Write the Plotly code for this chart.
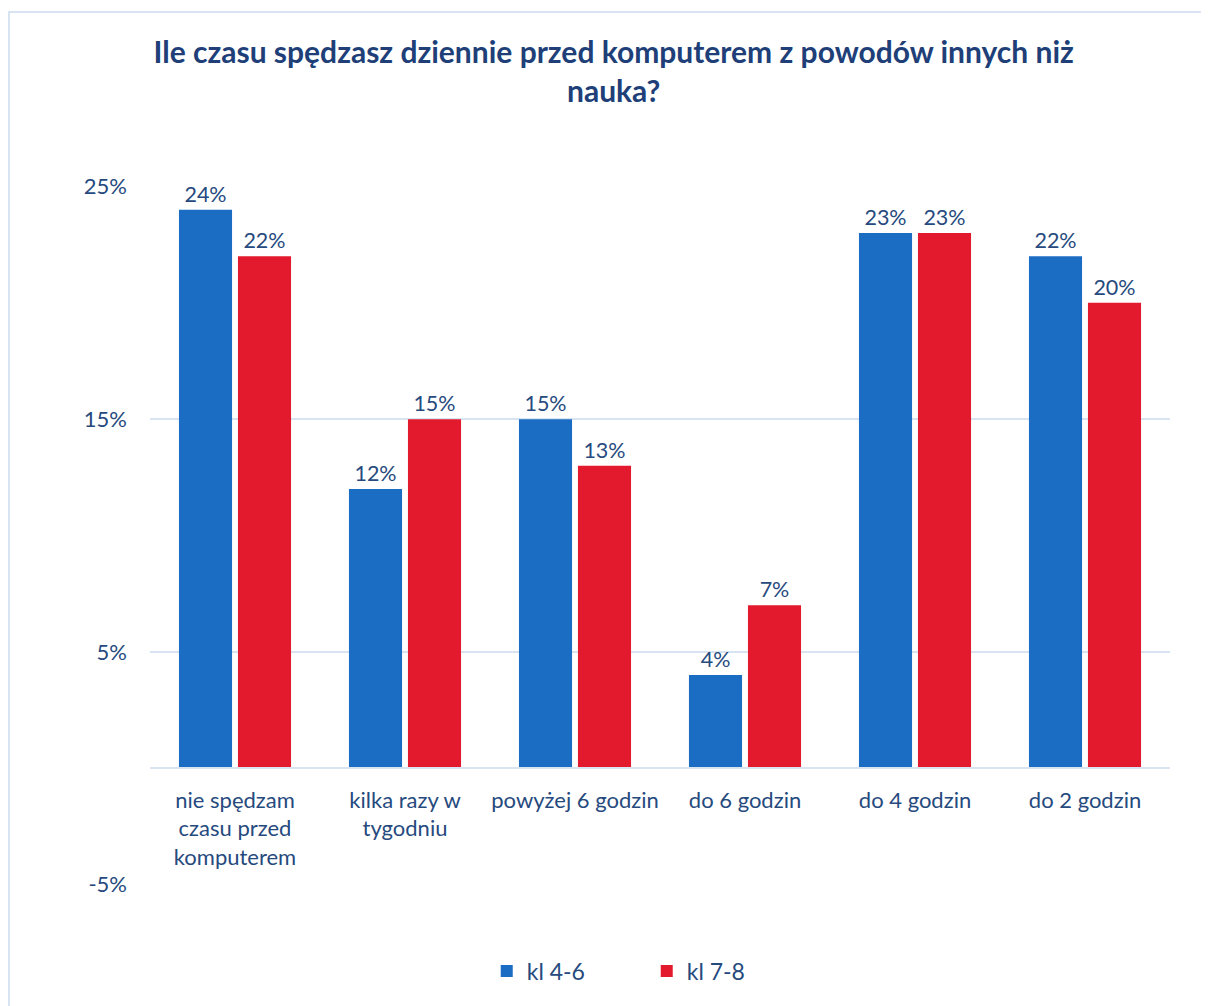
import plotly.graph_objects as go

categories = [
    "nie spędzam<br>czasu przed<br>komputerem",
    "kilka razy w<br>tygodniu",
    "powyżej 6 godzin",
    "do 6 godzin",
    "do 4 godzin",
    "do 2 godzin",
]
kl_4_6 = [24, 12, 15, 4, 23, 22]
kl_7_8 = [22, 15, 13, 7, 23, 20]
series_names = ["kl 4-6", "kl 7-8"]
tick_values = [-5, 5, 15, 25]
tick_labels = ["-5%", "5%", "15%", "25%"]
title_text = "Ile czasu spędzasz dziennie przed komputerem z powodów innych niż<br>nauka?"

FONT = "Lato"
TXT = "#264A7E"
GRID = "#D9E4F2"

# figure is rendered with an 8px page offset
L, T = 142, 178
PW, PH = 1020, 699

fig = go.Figure()
for vals, name, col in [(kl_4_6, series_names[0], "#1B6DC3"),
                        (kl_7_8, series_names[1], "#E31A2D")]:
    fig.add_trace(go.Bar(
        x=categories, y=vals, name=name,
        marker=dict(color=col, line=dict(width=0)),
        text=[f"{v}%" for v in vals], textposition="outside",
        textfont=dict(size=21.5, color=TXT, family=FONT), cliponaxis=False,
        hoverinfo="x+y+name",
    ))

fig.update_layout(
    width=1209, height=1006,
    margin=dict(l=L, r=1209 - L - PW, t=T, b=1006 - T - PH),
    paper_bgcolor="white", plot_bgcolor="white",
    font=dict(family=FONT, color=TXT, size=22),
    title=dict(text="<b>" + title_text + "</b>", x=0.501, xanchor="center",
               y=0.945, yanchor="top", yref="container",
               font=dict(size=30, color="#203F78", family=FONT)),
    barmode="group", bargap=0.306, bargroupgap=0.1,
    showlegend=True,
    legend=dict(orientation="h", x=0.487, xanchor="center", y=-0.123, yanchor="middle",
                font=dict(size=23, color=TXT, family=FONT), itemwidth=30,
                traceorder="normal", entrywidth=115),
    xaxis=dict(anchor="free", position=5 / 30.04 + 0.02 / 30.04, showline=True,
               linecolor=GRID, linewidth=2, ticks="", showgrid=False,
               tickfont=dict(size=22, color=TXT), tickangle=0,
               ticklabelstandoff=12, automargin=False),
    yaxis=dict(range=[-5.02, 25.02], tickvals=tick_values, ticktext=tick_labels,
               showgrid=True, gridcolor=GRID, gridwidth=2, zeroline=False,
               ticks="", tickfont=dict(size=22, color=TXT), ticklabelstandoff=22,
               automargin=False),
)

fig.add_shape(type="rect", xref="paper", yref="paper",
              x0=(1 - L) / PW, x1=(1215 - L) / PW,
              y0=(T + PH - 1015) / PH, y1=1 + (T - 4) / PH,
              line=dict(color=GRID, width=2), fillcolor="rgba(0,0,0,0)", layer="below")

fig.write_html("out.html")
